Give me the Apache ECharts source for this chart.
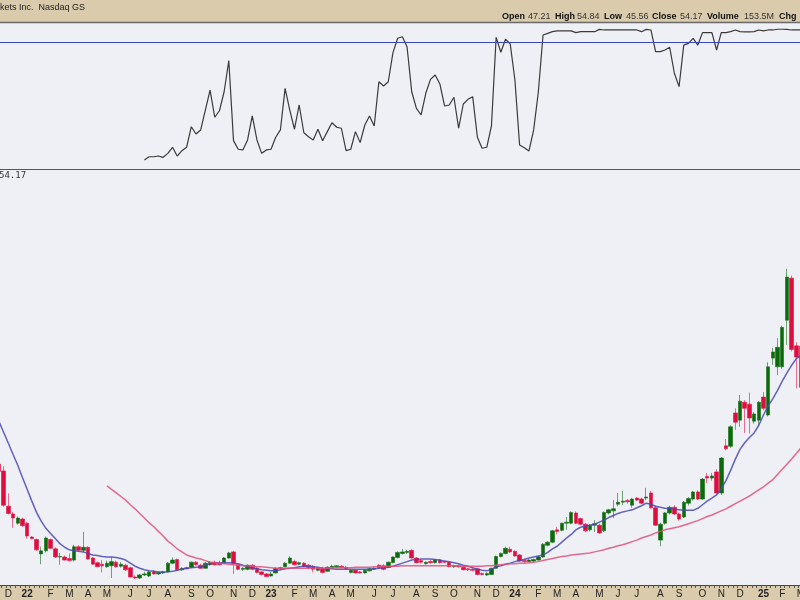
<!DOCTYPE html>
<html><head><meta charset="utf-8">
<script src="https://cdn.jsdelivr.net/npm/echarts/dist/echarts.min.js"></script>
<style>html,body{margin:0;padding:0;background:#eff0f5}#c{width:800px;height:600px}</style>
</head><body><div id="c"></div>
<script>
// ---- data (weekly, starting week of 2021-11-22) ----
const weekCount = 172;
const opens = [29.0,27.7,20.8,19.3,17.5,18.3,17.5,14.8,14.3,11.5,12.1,14.3,12.5,10.9,10.9,10.6,10.3,12.9,12.2,12.8,10.7,9.8,9.5,9.0,9.2,9.9,9.1,9.3,8.8,7.0,6.8,7.4,7.2,8.0,7.6,7.8,8.0,9.7,10.4,8.4,8.8,8.9,9.9,9.3,8.7,9.4,9.9,9.6,9.7,10.7,11.9,9.4,8.5,8.5,9.3,8.7,8.0,7.6,7.2,7.8,8.7,9.0,9.7,10.0,9.5,9.7,9.3,9.1,8.3,8.7,8.1,8.9,9.0,9.1,8.9,7.9,8.3,8.0,7.8,8.2,8.5,9.3,9.2,8.9,9.8,10.8,11.6,11.8,12.2,10.7,10.2,9.6,10.0,9.8,10.3,10.0,9.9,9.0,9.2,8.9,8.6,8.5,8.6,7.7,7.4,7.5,8.7,11.0,11.6,12.4,12.0,11.3,10.2,10.0,10.1,10.3,10.9,13.2,13.8,16.2,16.1,17.5,17.5,19.5,18.4,17.3,16.2,17.1,17.1,16.0,19.5,19.9,21.2,21.6,21.9,21.0,22.4,22.2,22.4,23.4,20.5,14.2,17.5,19.5,20.6,19.3,18.7,21.4,22.2,23.6,22.2,26.6,26.3,27.5,23.4,32.6,32.5,39.0,37.6,41.1,40.7,37.4,37.6,42.1,38.6,49.7,48.0,48.0,57.1,65.3,52.1,52.0];
const highs = [29.5,28.6,23.3,19.7,18.8,18.6,17.7,15.0,14.5,12.9,14.9,14.5,12.8,11.7,11.2,11.6,13.3,13.2,15.8,13.0,10.9,10.0,10.3,10.2,10.9,10.2,9.9,9.6,9.0,7.3,7.6,8.0,8.2,8.3,8.1,8.2,9.9,10.8,10.6,8.9,9.0,10.0,10.1,9.6,9.9,10.1,10.2,10.2,10.9,11.9,12.1,9.6,8.9,9.5,9.5,8.9,8.1,7.8,8.0,8.9,9.0,9.9,11.0,10.4,10.0,9.9,9.5,9.3,8.9,9.0,9.1,9.4,9.3,9.3,9.1,8.5,8.5,8.2,8.5,8.8,8.9,9.5,9.5,10.0,11.0,12.0,12.5,12.3,12.4,10.9,10.5,10.0,10.3,10.4,10.5,10.2,10.1,9.4,9.4,9.1,8.8,8.7,8.8,7.9,7.9,8.8,11.2,11.8,12.9,12.9,12.2,11.5,10.6,10.5,10.6,11.1,13.6,14.0,16.2,16.8,17.6,18.7,19.8,19.8,18.6,17.5,17.3,18.1,17.4,19.8,20.3,22.0,23.4,23.8,22.2,22.4,22.6,22.5,24.4,23.8,20.8,17.6,19.7,20.9,21.0,19.6,21.8,22.6,23.8,23.9,26.3,27.3,27.3,28.0,30.4,33.9,36.6,39.9,42.5,41.5,43.0,39.2,41.3,43.1,48.9,51.7,53.6,56.0,67.1,65.8,52.8,55.2];
const lows = [27.3,20.7,19.2,16.6,17.2,16.8,14.5,14.3,12.1,9.5,11.8,12.4,10.7,9.4,10.2,10.0,10.0,11.9,11.8,10.4,9.4,8.9,7.9,8.8,6.8,8.8,8.8,8.2,6.9,6.6,6.6,7.2,7.0,7.5,7.4,7.6,7.9,9.5,8.2,8.2,8.5,8.8,9.2,8.6,8.6,9.2,9.2,9.3,9.6,10.6,7.6,8.3,8.2,8.3,8.3,7.7,7.3,7.0,7.1,7.7,8.4,8.9,9.6,9.2,9.3,8.9,8.6,7.9,8.1,7.7,8.0,8.7,8.8,8.7,8.4,7.7,7.7,7.7,7.7,8.1,8.4,8.6,8.3,8.8,9.7,10.6,11.4,11.5,10.6,9.6,9.6,9.4,9.6,9.6,9.6,9.7,8.9,8.8,8.8,8.3,8.2,8.1,7.3,7.3,7.2,7.4,8.6,10.8,11.4,11.7,11.0,10.0,9.8,9.9,9.9,10.2,10.8,13.0,13.6,15.3,15.9,16.2,17.3,17.3,17.1,15.8,15.9,15.8,15.4,15.8,19.2,18.5,20.8,21.0,21.3,20.5,21.8,21.2,22.0,20.3,17.0,13.0,17.2,19.2,19.1,18.0,18.5,21.0,21.9,22.0,22.0,25.3,25.8,23.2,23.0,31.7,32.2,35.7,36.3,35.1,35.0,36.9,36.5,39.5,38.3,48.4,46.4,47.6,52.3,51.0,43.8,43.4];
const closes = [27.6,21.0,19.4,18.5,18.5,17.0,15.0,14.5,12.3,12.1,14.6,12.6,10.9,11.0,10.3,10.2,12.9,12.2,12.8,10.5,9.5,9.0,9.2,9.7,10.0,9.0,9.5,8.4,7.0,6.8,7.4,7.6,8.0,7.6,7.9,8.0,9.7,10.3,8.4,8.7,8.6,9.9,9.4,8.7,9.7,9.9,9.4,9.4,10.7,11.7,9.7,8.5,8.7,9.3,8.5,7.9,7.5,7.1,7.6,8.7,8.8,9.7,10.7,9.4,9.8,9.0,8.8,8.5,8.7,7.9,8.9,9.1,9.2,8.9,8.6,8.3,7.8,7.8,8.3,8.6,8.7,8.8,8.5,9.9,10.9,11.8,11.9,12.0,10.7,9.8,9.9,9.9,9.8,10.3,9.8,9.9,9.0,9.2,9.0,8.4,8.4,8.3,7.5,7.5,7.7,8.7,11.0,11.6,12.6,11.9,11.1,10.1,10.0,10.3,10.4,10.9,13.4,13.8,16.0,15.9,17.5,17.7,19.6,17.5,17.3,16.0,17.1,17.4,15.6,19.6,20.1,20.3,21.6,21.8,21.7,22.2,22.0,21.4,22.6,20.5,17.1,17.3,19.5,20.6,19.3,18.3,21.6,22.3,23.6,22.2,26.1,26.3,26.7,23.4,30.2,32.0,36.3,37.2,41.3,39.9,38.0,38.8,41.1,39.9,48.0,50.9,51.8,55.7,65.5,51.4,49.9,44.0];
const ma10 = [37.3,35.2,33.1,30.9,28.8,26.4,24.1,21.8,19.6,17.9,16.5,15.5,14.5,13.5,12.8,12.3,12.1,12.0,11.9,11.6,11.3,11.2,11.0,10.9,10.9,10.8,10.6,10.3,9.7,9.1,8.7,8.4,8.2,8.1,8.0,8.0,8.0,8.1,8.3,8.5,8.7,8.8,8.9,9.0,9.3,9.6,9.8,9.8,9.8,9.8,9.7,9.6,9.3,9.0,8.8,8.6,8.4,8.3,8.2,8.2,8.4,8.6,8.7,8.8,9.0,9.1,9.1,9.0,8.9,8.7,8.6,8.6,8.5,8.5,8.5,8.5,8.5,8.5,8.5,8.5,8.6,8.7,8.8,8.9,9.1,9.4,9.7,10.0,10.3,10.4,10.5,10.5,10.5,10.4,10.3,10.1,10.0,9.8,9.6,9.3,9.1,8.8,8.5,8.3,8.2,8.5,9.0,9.2,9.5,9.7,10.0,10.2,10.4,10.7,10.9,11.1,11.3,11.8,12.5,13.0,13.8,14.6,15.3,16.2,16.7,16.9,17.1,17.3,17.7,18.1,18.6,19.0,19.4,19.7,19.9,20.1,20.5,20.9,21.4,21.2,20.8,20.6,20.4,20.3,20.2,20.1,20.0,20.0,20.0,20.4,21.1,21.8,22.4,23.0,24.2,25.8,27.8,30.0,31.9,33.2,34.2,35.1,36.6,38.6,40.4,41.8,43.4,45.2,46.8,48.3,49.6,50.2];
const ma40 = [null,null,null,null,null,null,null,null,null,null,null,null,null,null,null,null,null,null,null,null,null,null,null,24.8,24.1,23.4,22.7,22.0,21.1,20.3,19.4,18.5,17.6,16.8,15.9,15.0,14.0,13.3,12.5,11.9,11.3,11.0,10.7,10.5,10.2,9.9,9.8,9.7,9.6,9.5,9.4,9.3,9.2,9.2,9.1,9.0,9.0,8.9,8.8,8.7,8.7,8.7,8.7,8.7,8.7,8.7,8.7,8.7,8.7,8.7,8.7,8.8,8.8,8.8,8.8,8.8,8.9,8.9,8.9,8.9,9.0,9.0,9.0,9.1,9.1,9.1,9.2,9.2,9.2,9.2,9.2,9.2,9.2,9.2,9.2,9.2,9.2,9.2,9.1,9.1,9.1,9.1,9.1,9.1,9.2,9.2,9.3,9.4,9.5,9.6,9.6,9.7,9.7,9.8,9.9,10.0,10.2,10.4,10.6,10.8,11.0,11.1,11.3,11.4,11.5,11.6,11.7,11.9,12.1,12.3,12.6,12.8,13.1,13.3,13.6,13.9,14.2,14.6,14.9,15.2,15.6,15.9,16.2,16.4,16.6,16.8,17.1,17.4,17.7,18.0,18.4,18.8,19.1,19.5,19.9,20.3,20.8,21.3,21.8,22.3,22.8,23.4,24.0,24.6,25.3,26.0,27.0,28.0,29.0,30.0,31.1,32.2];
const indicator = [null,null,null,null,null,null,null,null,null,null,null,null,null,null,null,null,null,null,null,null,null,null,null,null,null,null,null,null,null,null,null,6.4,8.7,8.7,9.2,8.3,11.1,15.4,9.2,13.0,15.4,30.0,24.8,27.7,41.8,56.0,36.7,41.3,54.8,76.8,20.1,14.0,13.5,20.6,37.6,20.6,11.1,13.5,14.0,22.5,27.7,57.2,41.8,28.2,45.4,25.7,22.9,20.6,28.2,20.1,26.5,32.8,29.6,28.9,13.0,14.0,26.5,18.7,31.2,37.6,30.5,61.9,58.9,61.9,82.5,92.7,93.8,86.7,54.8,43.0,38.3,53.7,63.6,66.7,60.3,44.7,45.4,50.9,28.9,46.1,49.4,51.3,22.5,14.7,15.4,30.5,93.4,82.8,92.0,88.7,63.1,17.0,15.1,12.8,27.7,54.8,95.0,96.2,97.4,98.0,98.0,98.0,98.0,96.7,97.4,97.4,97.4,97.4,99.0,98.6,98.6,98.6,98.6,98.6,98.6,98.6,98.6,97.4,99.0,98.6,83.2,83.2,84.4,86.3,67.9,58.4,87.9,89.1,92.7,87.9,96.7,96.7,96.7,84.4,96.7,96.7,97.4,98.6,97.4,97.2,97.2,97.4,98.6,97.9,98.6,98.6,99.1,99.1,99.0,98.6,98.6,98.6];
const indicatorThreshold = 90;
const monthLetters = ['J','F','M','A','M','J','J','A','S','O','N','D'];
const headerLeft = 'kets Inc.  Nasdaq GS';
const quoteLabels = ['Open','High','Low','Close','Volume','Chg'];
const quoteValues = ['47.21','54.84','45.56','54.17','153.5M',''];
const lastPriceLabel = '54.17';

// ---- categories: weekly dates ----
const weeks = [];
for (let i = 0; i < weekCount; i++) {
  const d = new Date(Date.UTC(2021, 10, 22) + i * 7 * 86400000);
  weeks.push(d.toISOString().slice(0, 10));
}
const candles = weeks.map((w, i) => [opens[i], closes[i], lows[i], highs[i]]);

const labelX = [502, 555, 604, 652, 707, 779];
const valueX = [528, 577, 626, 680, 744, 800];
const graphics = [
  {type:'rect', shape:{x:0,y:0,width:800,height:22}, style:{fill:'#d9cbac'}, z:0},
  {type:'line', shape:{x1:0,y1:22.5,x2:800,y2:22.5}, style:{stroke:'#6a6a6a', lineWidth:1.5}, z:1},
  {type:'rect', shape:{x:0,y:585,width:800,height:15}, style:{fill:'#d9cbac'}, z:0},
  {type:'line', shape:{x1:0,y1:169.5,x2:800,y2:169.5}, style:{stroke:'#555', lineWidth:1.2}, z:1},
  {type:'text', x:0, y:7.5, style:{text:headerLeft, fill:'#222', font:'9px "Liberation Sans", Arial, sans-serif', textVerticalAlign:'middle'}, z:5},
  {type:'text', x:-1, y:175.5, style:{text:lastPriceLabel, fill:'#333', font:'9px "DejaVu Sans Mono", monospace', textVerticalAlign:'middle'}, z:5}
];
quoteLabels.forEach((t, i) => {
  graphics.push({type:'text', x:labelX[i], y:17, style:{text:t, fill:'#111', font:'bold 9px "Liberation Sans", Arial, sans-serif', textVerticalAlign:'middle'}, z:5});
  if (quoteValues[i]) graphics.push({type:'text', x:valueX[i], y:17, style:{text:quoteValues[i], fill:'#333', font:'9px "Liberation Sans", Arial, sans-serif', textVerticalAlign:'middle'}, z:5});
});

const chart = echarts.init(document.getElementById('c'), null, {renderer:'canvas'});
chart.setOption({
  animation: false,
  backgroundColor: '#eff0f5',
  grid: [
    {left:-3.35, width:806.7, top:28, height:141, outerBoundsMode:'none', containLabel:false},
    {left:-3.35, width:806.7, top:171, height:414, outerBoundsMode:'none', containLabel:false}
  ],
  xAxis: [
    {type:'category', gridIndex:0, data:weeks, boundaryGap:true, show:false},
    {type:'category', gridIndex:1, data:weeks, boundaryGap:true, z:10,
     axisLine:{show:true, lineStyle:{color:'#444', width:1}},
     axisTick:{show:true, interval:0, length:3, lineStyle:{color:'#555'}},
     splitLine:{show:false},
     axisLabel:{
       show:true, hideOverlap:false, margin:4, color:'#222', fontSize:10,
       fontFamily:'"Liberation Sans", Arial, sans-serif',
       interval:(idx, val) => idx > 0 && weeks[idx].slice(5,7) !== weeks[idx-1].slice(5,7),
       formatter:(val) => { const m = +val.slice(5,7); return m === 1 ? '{y|' + val.slice(2,4) + '}' : monthLetters[m-1]; },
       rich:{y:{fontWeight:'bold', fontSize:10, color:'#222', fontFamily:'"Liberation Sans", Arial, sans-serif'}}
     }}
  ],
  yAxis: [
    {type:'value', gridIndex:0, min:0, max:100, show:false, splitLine:{show:false}},
    {type:'value', gridIndex:1, min:5.44, max:86.2, show:false, splitLine:{show:false}}
  ],
  graphic: graphics,
  series: [
    {type:'line', name:'Indicator', xAxisIndex:0, yAxisIndex:0, data:indicator, showSymbol:false, symbol:'none',
     lineStyle:{color:'#3a3a3a', width:1.2}, z:3,
     markLine:{silent:true, symbol:'none', label:{show:false}, data:[{yAxis:indicatorThreshold}],
               lineStyle:{color:'#3b47b5', width:1, type:'solid'}}},
    {type:'candlestick', name:'Price', xAxisIndex:1, yAxisIndex:1, data:candles, barWidth:4,
     itemStyle:{color:'#0b6b0b', color0:'#dd0d40', borderColor:'rgba(20,110,20,0.6)', borderColor0:'rgba(225,20,70,0.6)', borderWidth:1}, z:2},
    {type:'line', name:'MA10', xAxisIndex:1, yAxisIndex:1, data:ma10, showSymbol:false, symbol:'none',
     lineStyle:{color:'#4848b6', width:1.5, opacity:0.85}, z:4},
    {type:'line', name:'MA40', xAxisIndex:1, yAxisIndex:1, data:ma40, showSymbol:false, symbol:'none',
     lineStyle:{color:'#e2507a', width:1.5, opacity:0.85}, z:4}
  ]
});
</script></body></html>
